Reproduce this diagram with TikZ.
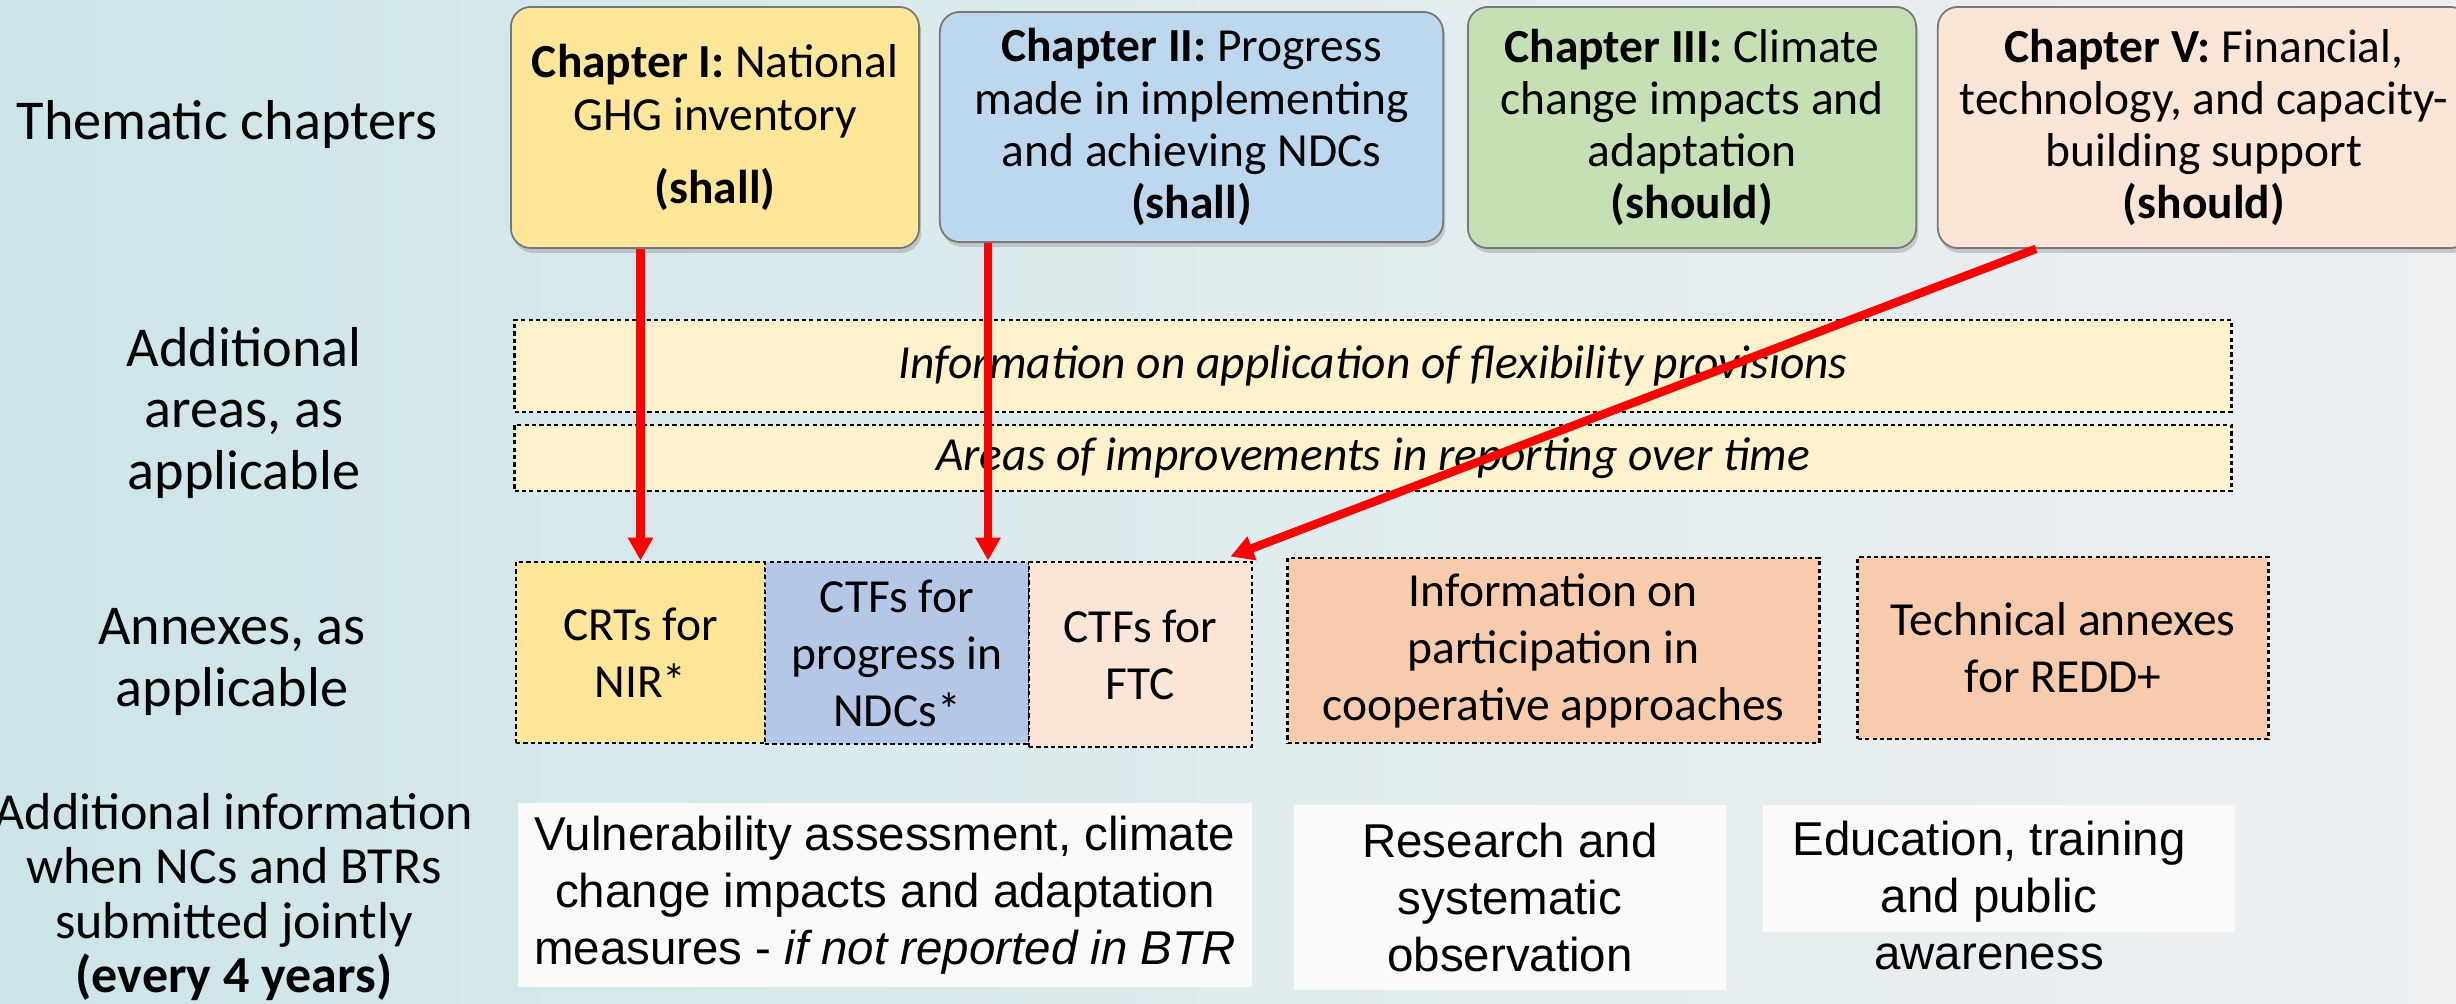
\documentclass[tikz,border=0pt]{standalone}
\usepackage{fontspec}
\setmainfont{Carlito}
\newfontfamily\arialf{Liberation Sans}
\usetikzlibrary{arrows.meta,shadows,calc}
\definecolor{bgL}{RGB}{204,228,232}
\definecolor{bgM}{RGB}{224,236,238}
\definecolor{bgR}{RGB}{238,240,242}
\definecolor{chYellow}{RGB}{255,230,153}
\definecolor{chBlue}{RGB}{189,215,238}
\definecolor{chGreen}{RGB}{197,224,180}
\definecolor{chPeach}{RGB}{251,229,214}
\definecolor{anBlue}{RGB}{180,199,231}
\definecolor{anOrange}{RGB}{248,203,173}
\definecolor{barFill}{RGB}{255,242,204}
\definecolor{whiteFill}{RGB}{250,250,250}
\definecolor{boxLine}{RGB}{120,120,120}
\begin{document}
\begin{tikzpicture}[x=0.01cm,y=-0.01cm,
  chapbox/.style={draw=boxLine, line width=0.5pt, rounded corners=0.2cm, align=center, inner sep=0pt,
    font=\fontsize{13.5}{14.8}\selectfont,
    drop shadow={opacity=0.35, shadow xshift=0.6pt, shadow yshift=-1.4pt}},
  annexbox/.style={draw=black, line width=0.8pt, dash pattern=on 1.2pt off 0.9pt, align=center, inner sep=0pt,
    font=\fontsize{13.5}{16.2}\selectfont},
  barbox/.style={annexbox, fill=barFill, font=\fontsize{13.5}{16}\selectfont\itshape},
  whitebox/.style={fill=whiteFill, draw=none, align=center, inner sep=0pt,
    font=\arialf\fontsize{13.5}{16.2}\selectfont},
  rowlabel/.style={align=center, inner sep=0pt, font=\fontsize{16}{17.4}\selectfont},
  redarrow/.style={draw=red, line width=2.4pt, -{Triangle[length=0.23cm,width=0.24cm]}}
]
\useasboundingbox (0,0) rectangle (2456,1004);
\shade[left color=bgL, right color=bgR, middle color=bgM] (0,0) rectangle (2456,1004);

% row labels
\node[rowlabel] (lab1) at (227,125) {Thematic chapters};
\node[rowlabel] (lab2) at (244,413) {Additional\\areas, as\\applicable};
\node[rowlabel] (lab3) at (232,662) {Annexes, as\\applicable};
\node[rowlabel, font=\fontsize{14.8}{15.5}\selectfont] (lab4) at (234,897) {Additional information\\when NCs and BTRs\\submitted jointly\\\textbf{(every 4 years)}};

% chapter boxes
\node[chapbox, fill=chYellow, minimum width=4.08cm, minimum height=2.41cm] (chI) at (715,127.5)
  {\textbf{Chapter I:} National\\GHG inventory\\[6pt]\textbf{(shall)}};
\node[chapbox, fill=chBlue, minimum width=5.03cm, minimum height=2.30cm] (chII) at (1191.5,127)
  {\textbf{Chapter II:} Progress\\made in implementing\\and achieving NDCs\\\textbf{(shall)}};
\node[chapbox, fill=chGreen, minimum width=4.48cm, minimum height=2.41cm] (chIII) at (1692,127.5)
  {\textbf{Chapter III:} Climate\\change impacts and\\adaptation\\\textbf{(should)}};
\node[chapbox, fill=chPeach, minimum width=5.32cm, minimum height=2.41cm] (chV) at (2204,127.5)
  {\textbf{Chapter V:} Financial,\\technology, and capacity-\\building support\\\textbf{(should)}};

% additional areas bars
\node[barbox, minimum width=17.16cm, minimum height=0.92cm] (bar1) at (1373,366)
  {Information on application of flexibility provisions};
\node[barbox, minimum width=17.16cm, minimum height=0.66cm] (bar2) at (1373,458)
  {Areas of improvements in reporting over time};

% annexes
\node[annexbox, fill=chYellow, minimum width=2.49cm, minimum height=1.81cm] (crt) at (640.5,652.5)
  {CRTs for\\NIR*};
\node[annexbox, fill=anBlue, minimum width=2.64cm, minimum height=1.82cm] (ctfp) at (897,653)
  {CTFs for\\progress in\\NDCs*};
\node[annexbox, fill=chPeach, minimum width=2.23cm, minimum height=1.85cm] (ftc) at (1140.5,654.5)
  {CTFs for\\FTC};
\node[annexbox, fill=anOrange, minimum width=5.31cm, minimum height=1.85cm] (coop) at (1553.5,650.5)
  {Information on\\participation in\\cooperative approaches};
\node[annexbox, fill=anOrange, minimum width=4.10cm, minimum height=1.82cm] (redd) at (2063,648)
  {Technical annexes\\for REDD+};

% additional information boxes
\node[whitebox, minimum width=7.34cm, minimum height=1.84cm] (vuln) at (885,895)
  {Vulnerability assessment, climate\\change impacts and adaptation\\measures - \textit{if not reported in BTR}};
\node[whitebox, minimum width=4.32cm, minimum height=1.85cm] (res) at (1510,897.5)
  {Research and\\systematic\\observation};
\node[whitebox, minimum width=4.72cm, minimum height=1.27cm] (eduBox) at (1999,868.5) {};
\node[whitebox, fill=none] (edu) at (1989,896)
  {Education, training\\and public\\awareness};

% red arrows
\draw[redarrow] (chI.south -| crt.north) -- (crt.north);
\coordinate (a2) at (988,0);
\draw[redarrow] (chII.south -| a2) -- (ctfp.north -| a2);
\coordinate (a3s) at (2036,0);
\draw[redarrow] (chV.south -| a3s) -- ($(ftc.north east)+(-23,-4)$);
\end{tikzpicture}
\end{document}
